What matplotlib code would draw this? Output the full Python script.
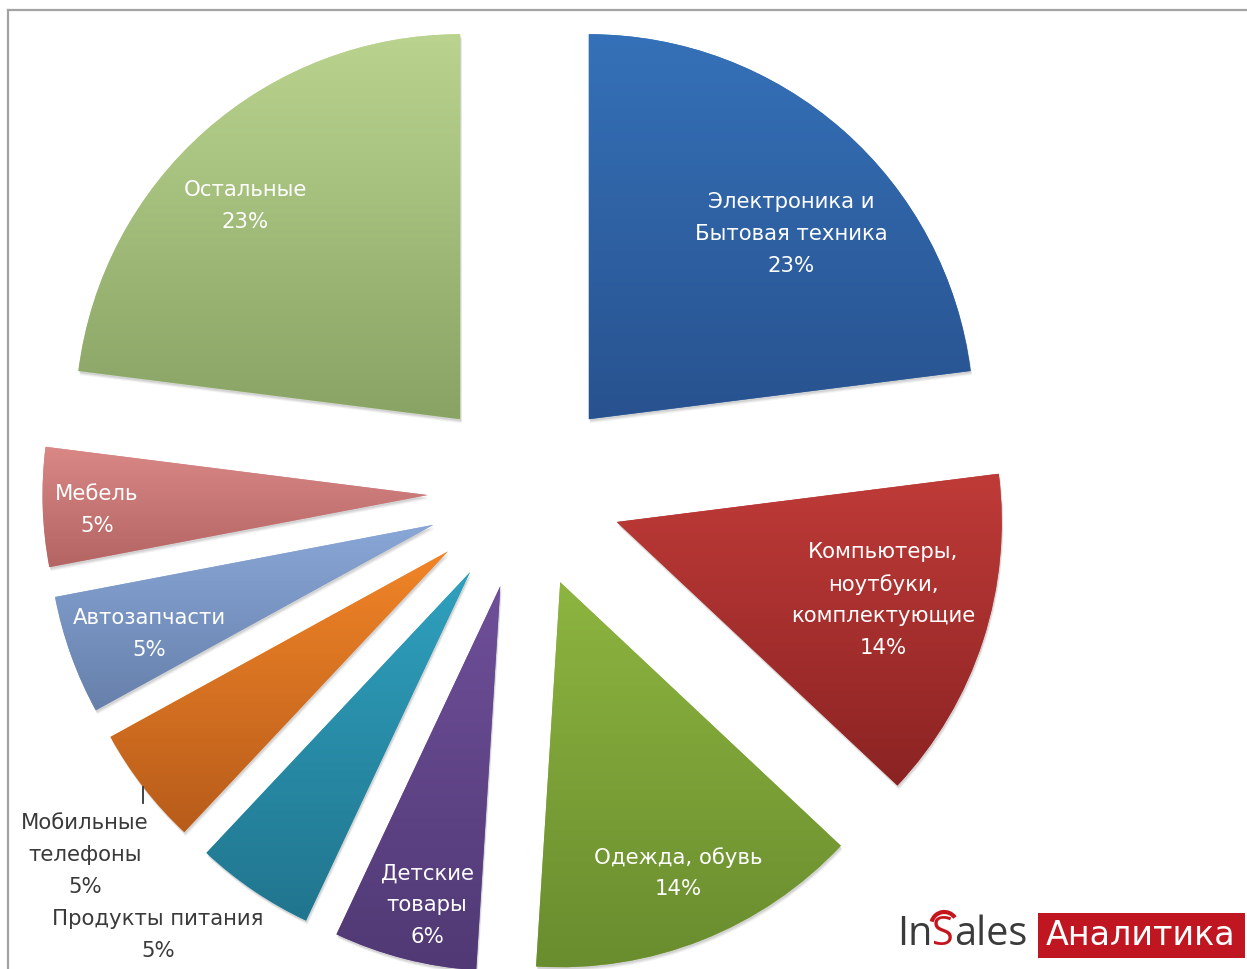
import numpy as np
import matplotlib
matplotlib.use("Agg")
import matplotlib.pyplot as plt
from matplotlib.colors import to_rgb
from matplotlib.patches import Rectangle, Arc, Wedge
from matplotlib.lines import Line2D

# Market share by product category, clockwise from 12 o'clock
categories = [
    "Электроника и\nБытовая техника",
    "Компьютеры,\nноутбуки,\nкомплектующие",
    "Одежда, обувь",
    "Детские\nтовары",
    "Продукты питания",
    "Мобильные\nтелефоны",
    "Автозапчасти",
    "Мебель",
    "Остальные",
]
shares = [23, 14, 14, 6, 5, 5, 5, 5, 23]

top_colors = ["#3571B8", "#BF3B38", "#8DB540", "#6F4F9A", "#2FA1BF",
              "#F18527", "#89A7D7", "#D98886", "#BAD48F"]
bottom_colors = ["#28528F", "#8B2323", "#698C2E", "#503974", "#21758E",
                 "#B85C1B", "#6780AB", "#B36463", "#89A365"]

# label anchor points (pixel layout), and whether the label sits outside the slice
label_pos = [(791, 234), (883, 600), (678, 873), (427, 905), (158, 935),
             (85, 855), (149, 634), (97, 510), (245, 206)]
label_outside = [False, False, False, False, True, True, False, False, False]

W, H = 1247, 969
fig = plt.figure(figsize=(W / 100, H / 100), dpi=100)
ax = fig.add_axes([0, 0, 1, 1])

R = 385
cx, cy = 524.5, H - 492
wedges, _ = ax.pie(shares, radius=R, center=(cx, cy), startangle=90,
                   counterclock=False, explode=[0.252 * R] * len(shares),
                   frame=True, wedgeprops=dict(linewidth=0))
ax.set_xlim(0, W)
ax.set_ylim(0, H)
ax.set_aspect("auto")
ax.axis("off")

for w, c0, c1 in zip(wedges, top_colors, bottom_colors):
    w.set_zorder(2)
    # soft drop shadow, mostly below the slice
    for k, a in ((4, 0.05), (3, 0.06), (2, 0.07)):
        sh = Wedge((w.center[0] + k * 0.4, w.center[1] - k), w.r, w.theta1, w.theta2,
                   facecolor="black", alpha=a, linewidth=0, zorder=1)
        ax.add_patch(sh)
    # vertical gradient fill clipped to the slice
    v = w.get_path().vertices
    x0, x1 = v[:, 0].min(), v[:, 0].max()
    y0, y1 = v[:, 1].min(), v[:, 1].max()
    t = np.linspace(0, 1, 256)[:, None]
    grad = (1 - t) * np.array(to_rgb(c0)) + t * np.array(to_rgb(c1))
    im = ax.imshow(grad[:, None, :], extent=(x0, x1, y0, y1), origin="upper",
                   aspect="auto", interpolation="bilinear", zorder=3)
    im.set_clip_path(w)
    w.set_facecolor(c0)

for name, s, (lx, ly), outside in zip(categories, shares, label_pos, label_outside):
    ax.text(lx, H - ly, f"{name}\n{s}%", ha="center", va="center",
            fontsize=15.3, linespacing=1.72, family="DejaVu Sans",
            color="#3a3a3a" if outside else "white", zorder=5)

# leader tick for the outside label
ax.add_line(Line2D([143, 143], [H - 787, H - 803], color="#333333", lw=1.3, zorder=5))

# frame lines
ax.add_line(Line2D([7.5, W], [H - 10, H - 10], color="#A3A3A3", lw=1.6, zorder=6))
ax.add_line(Line2D([7.5, 7.5], [H - 10, 0], color="#A3A3A3", lw=1.6, zorder=6))

# logo
fig.canvas.draw()
rend = fig.canvas.get_renderer()
base = H - 945
x = 897
logo_font = dict(fontsize=28.5, family="Open Sans", va="baseline", ha="left", zorder=7)
for part, col in (("In", "#3b3b3b"), ("S", "#C4161C"), ("ales", "#3b3b3b")):
    tx = ax.text(x, base, part, color=col, **logo_font)
    bb = tx.get_window_extent(renderer=rend)
    if part == "S":
        sx = (bb.x0 + bb.x1) / 2
        ax.add_patch(Arc((sx + 1, H - 925), 26, 26, theta1=35, theta2=165,
                         color="#C4161C", lw=3, zorder=7))
    x = bb.x1

ax.add_patch(Rectangle((1038, H - 958), 207, 45, facecolor="#BF1621",
                       edgecolor="none", zorder=7))
ax.text(1141, base, "Аналитика", color="white", fontsize=24, family="DejaVu Sans",
        ha="center", va="baseline", zorder=8)

fig.savefig("out.png", dpi=100)
